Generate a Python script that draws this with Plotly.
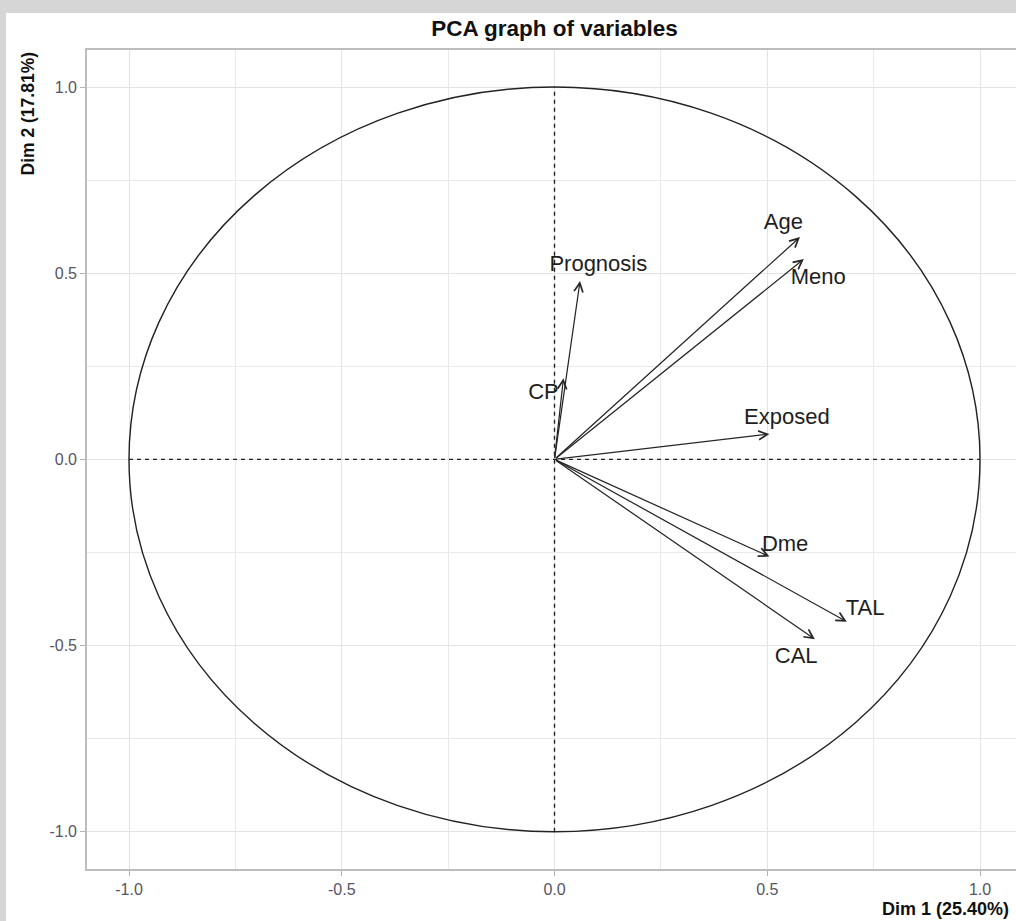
import plotly.graph_objects as go

# Variable coordinates (correlations with Dim 1 / Dim 2)
variables = ["Age", "Meno", "Prognosis", "CP", "Exposed", "Dme", "TAL", "CAL"]
dim1 = [0.577, 0.586, 0.060, 0.021, 0.505, 0.505, 0.687, 0.612]
dim2 = [0.597, 0.538, 0.479, 0.218, 0.068, -0.261, -0.436, -0.483]

# label offsets from arrow tips (repelled text)
label_dx = [-0.039, 0.034, 0.043, -0.047, 0.041, 0.037, 0.043, -0.044]
label_dy = [0.036, -0.051, 0.042, -0.040, 0.041, 0.031, 0.032, -0.049]

tick_vals = [-1.0, -0.5, 0.0, 0.5, 1.0]
tick_text = ["-1.0", "-0.5", "0.0", "0.5", "1.0"]

title_text = "PCA graph of variables"
xlab = "Dim 1 (25.40%)"
ylab = "Dim 2 (17.81%)"

W, H = 1016, 921
ML, MR, MT, MB = 87, 0, 50, 52
PW = W - ML - MR
PH = H - MT - MB
FONT = "Liberation Sans, Arial, sans-serif"

fig = go.Figure()

label_x = [x + dx for x, dx in zip(dim1, label_dx)]
label_y = [y + dy for y, dy in zip(dim2, label_dy)]
fig.add_trace(go.Scatter(
    x=label_x, y=label_y, mode="text", text=variables,
    textposition="middle center",
    textfont=dict(family=FONT, size=22, color="#1e1e1e"),
    hoverinfo="skip", showlegend=False,
))

annotations = []
for x, y in zip(dim1, dim2):
    annotations.append(dict(
        x=x, y=y, ax=0, ay=0, xref="x", yref="y", axref="x", ayref="y",
        text="", showarrow=True, arrowhead=5, arrowsize=1.4, arrowwidth=1.25,
        arrowcolor="#262626", standoff=0, startstandoff=0,
    ))

# axis titles
annotations.append(dict(
    text="<b>" + ylab + "</b>", xref="paper", yref="paper",
    x=(27.5 - ML) / PW, y=1.0, xanchor="center", yanchor="top",
    textangle=-90, showarrow=False,
    font=dict(family=FONT, size=17.5, color="#111111"),
))
annotations.append(dict(
    text="<b>" + xlab + "</b>", xref="paper", yref="paper",
    x=(880 - ML) / PW, y=-(909 - (MT + PH)) / PH, xanchor="left", yanchor="middle",
    showarrow=False,
    font=dict(family=FONT, size=18, color="#111111"),
))

shapes = [
    # grey outer frame (top and left bands)
    dict(type="rect", xref="paper", yref="paper", x0=-0.2, x1=1.2,
         y0=(MT + PH - 13) / PH, y1=1.2, fillcolor="#d6d6d6", line=dict(width=0), layer="below"),
    dict(type="rect", xref="paper", yref="paper", x0=-0.2, x1=(6 - ML) / PW,
         y0=-0.2, y1=1.2, fillcolor="#d6d6d6", line=dict(width=0), layer="below"),
    # correlation circle
    dict(type="circle", xref="x", yref="y", x0=-1, y0=-1, x1=1, y1=1,
         line=dict(color="#222222", width=1.4), layer="above"),
    # dashed axes
    dict(type="line", xref="x", yref="y", x0=-1, x1=1, y0=0, y1=0,
         line=dict(color="#222222", width=1.4, dash="4px,4px")),
    dict(type="line", xref="x", yref="y", x0=0, x1=0, y0=-1, y1=1,
         line=dict(color="#222222", width=1.4, dash="4px,4px")),
]

axis_common = dict(
    tickvals=tick_vals, ticktext=tick_text,
    showgrid=True, gridcolor="#e4e4e4", gridwidth=1.3,
    minor=dict(dtick=0.25, tick0=0, showgrid=True, gridcolor="#e9e9e9", gridwidth=1.3, ticks=""),
    zeroline=False, showline=True, linecolor="#bdbdbd", linewidth=1.6,
    ticks="outside", ticklen=5, tickwidth=1.2, tickcolor="#b3b3b3",
    tickfont=dict(family=FONT, size=16, color="#555566"),
)

fig.update_layout(
    width=W, height=H,
    margin=dict(l=ML, r=MR, t=MT, b=MB, pad=0),
    paper_bgcolor="white", plot_bgcolor="white",
    title=dict(text="<b>" + title_text + "</b>", x=(554.5 - ML) / PW, xref="paper",
               xanchor="center", y=1 - 28 / H, yref="container", yanchor="middle",
               font=dict(family=FONT, size=22.5, color="#111111")),
    xaxis=dict(range=[-1.0987, (W - ML - MR) / 425.5 - 1.0987], mirror=True, **axis_common),
    yaxis=dict(range=[-1.1, 1.0995], mirror=False, **axis_common),
    annotations=annotations, shapes=shapes, showlegend=False,
)

fig.write_html(
    "out.html",
    config={"displayModeBar": False},
    post_script="document.body.style.margin='0';document.body.style.overflow='hidden';",
)
